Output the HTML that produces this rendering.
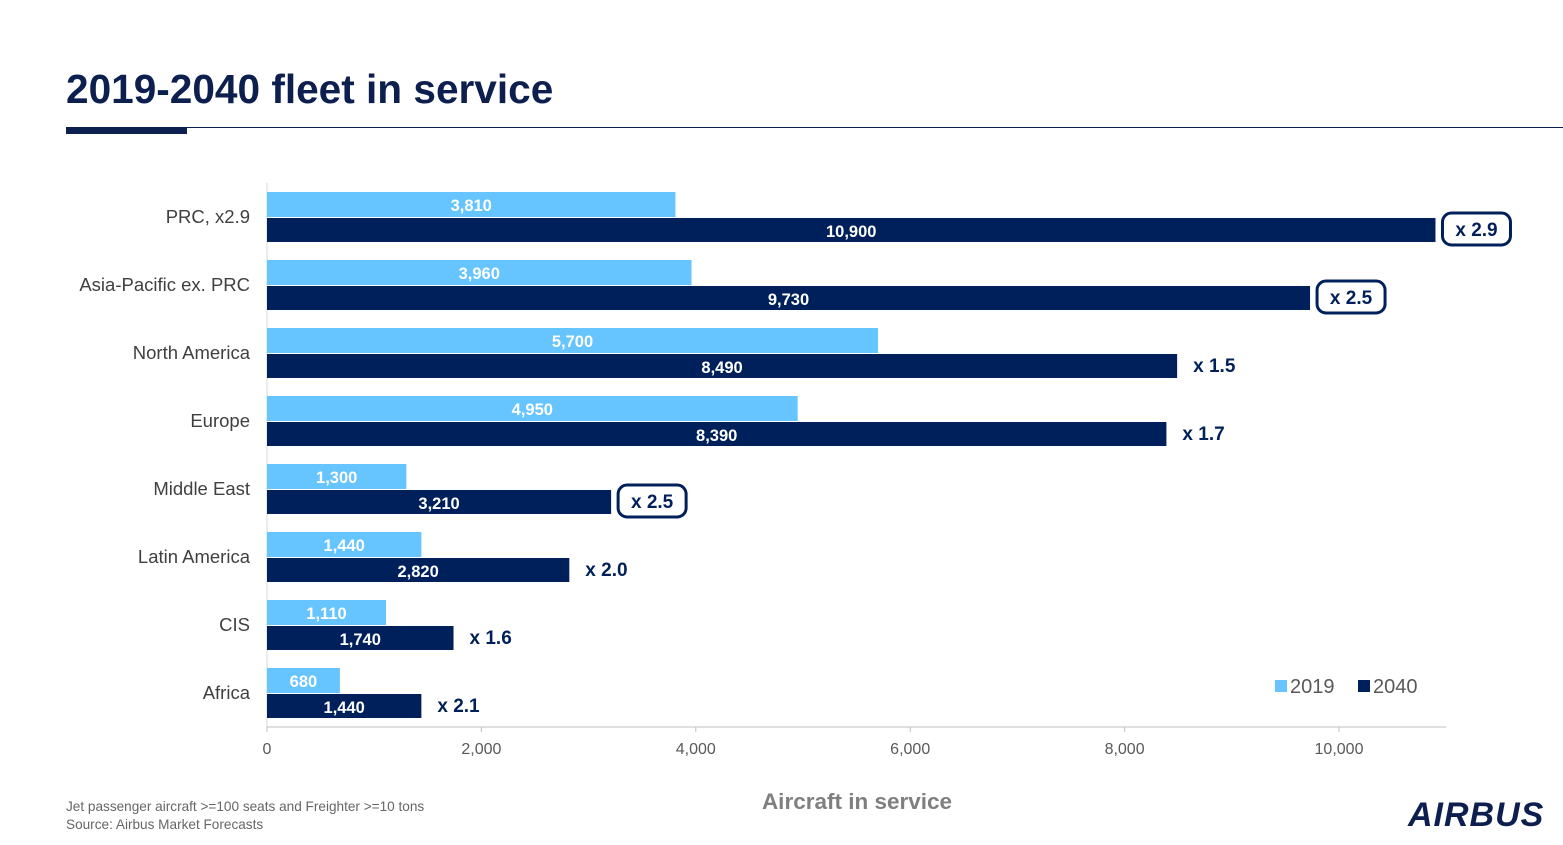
<!DOCTYPE html>
<html><head><meta charset="utf-8"><style>
body{margin:0;width:1563px;height:845px;background:#fff;font-family:"Liberation Sans",sans-serif;position:relative;overflow:hidden}
.t{position:absolute;white-space:nowrap}
</style></head><body>
<div class="t" style="left:66px;top:66px;font-size:40.6px;font-weight:bold;color:#0c1f4e">2019-2040 fleet in service</div>
<div style="position:absolute;left:66px;top:127px;width:121px;height:7px;background:#0c1f4e"></div>
<div style="position:absolute;left:187px;top:127px;width:1376px;height:1px;background:#0c1f4e"></div>
<svg id="c" width="1563" height="845" style="position:absolute;left:0;top:0"></svg>
<div class="t" style="left:66px;top:799px;font-size:13.6px;color:#666">Jet passenger aircraft &gt;=100 seats and Freighter &gt;=10 tons</div>
<div class="t" style="left:66px;top:817px;font-size:13.6px;color:#666">Source: Airbus Market Forecasts</div>
<div class="t" style="left:1408px;top:796px;font-size:34px;font-weight:bold;font-style:italic;color:#0c1f4e;letter-spacing:1px">AIRBUS</div>
<script>
const categories=["PRC, x2.9","Asia-Pacific ex. PRC","North America","Europe","Middle East","Latin America","CIS","Africa"];
const v2019=[3810,3960,5700,4950,1300,1440,1110,680];
const v2040=[10900,9730,8490,8390,3210,2820,1740,1440];
const ratios=["x 2.9","x 2.5","x 1.5","x 1.7","x 2.5","x 2.0","x 1.6","x 2.1"];
const boxed=[true,true,false,false,true,false,false,false];
const ticks=[0,2000,4000,6000,8000,10000];
const ns="http://www.w3.org/2000/svg";
const svg=document.getElementById('c');
const X=v=>267+v*0.1072;
const Y=i=>192+i*68;
function el(tag,a,txt){const e=document.createElementNS(ns,tag);for(const k in a)e.setAttribute(k,a[k]);if(txt!=null)e.textContent=txt;svg.appendChild(e);return e;}
const fmt=v=>v.toLocaleString('en-US');
let e;
e=el('line',{x1:267,y1:183,x2:267,y2:727,stroke:'#d9d9d9'});


e=el('line',{x1:267,y1:727,x2:1446,y2:727,stroke:'#bfbfbf'});


ticks.forEach(t=>{
 e=el('line',{x1:X(t),y1:727,x2:X(t),y2:732,stroke:'#bfbfbf'});
 
 
 e=el('text',{x:X(t),y:754,'text-anchor':'middle','font-size':16,fill:'#595959'},fmt(t));
 
 
});
categories.forEach((c,i)=>{
 const y=Y(i);
 e=el('text',{x:250,y:y+31,'text-anchor':'end','font-size':18.5,fill:'#404040'},c);
 
 
 e=el('rect',{x:267,y:y,width:X(v2019[i])-267,height:25,fill:'#66c4ff'});
 
 
 e=el('text',{x:(267+X(v2019[i]))/2,y:y+19,'text-anchor':'middle','font-size':16.5,'font-weight':'bold',fill:'#fff'},fmt(v2019[i]));
 
 
 e=el('rect',{x:267,y:y+26,width:X(v2040[i])-267,height:24,fill:'#00205b'});
 
 
 e=el('text',{x:(267+X(v2040[i]))/2,y:y+45,'text-anchor':'middle','font-size':16.5,'font-weight':'bold',fill:'#fff'},fmt(v2040[i]));
 
 
 const rx=X(v2040[i]);
 if(boxed[i]){
  e=el('rect',{x:rx+7,y:y+21,width:68,height:32,rx:9,fill:'none',stroke:'#00205b','stroke-width':3});
  
  
  e=el('text',{x:rx+41,y:y+44,'text-anchor':'middle','font-size':19,'font-weight':'bold',fill:'#00205b'},ratios[i]);
 } else {
  e=el('text',{x:rx+16,y:y+44,'font-size':19,'font-weight':'bold',fill:'#00205b'},ratios[i]);
 }
 
 
});
e=el('rect',{x:1275,y:680,width:12,height:12,fill:'#66c4ff'});


e=el('text',{x:1290,y:693,'font-size':20,fill:'#595959'},'2019');


e=el('rect',{x:1358,y:680,width:12,height:12,fill:'#00205b'});


e=el('text',{x:1373,y:693,'font-size':20,fill:'#595959'},'2040');


e=el('text',{x:857,y:809,'text-anchor':'middle','font-size':22.5,'font-weight':'bold',fill:'#7f7f7f'},'Aircraft in service');


</script>
</body></html>
